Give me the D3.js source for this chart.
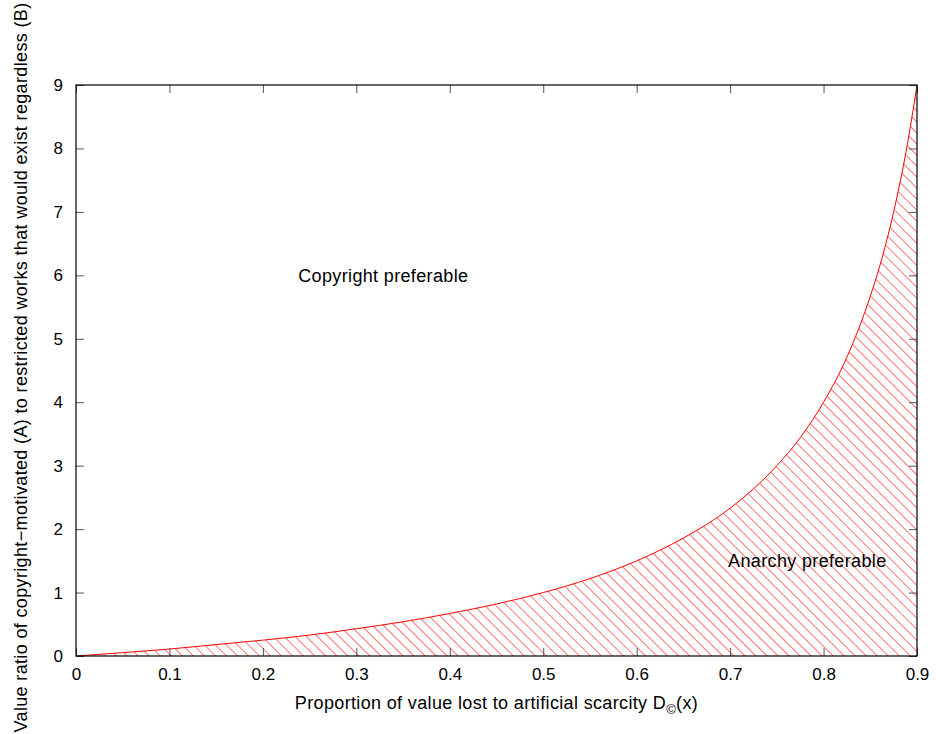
<!DOCTYPE html>
<html>
<head>
<meta charset="utf-8">
<script src="https://cdn.jsdelivr.net/npm/d3@7"></script>
<style>
  body { margin: 0; background: #fff; }
  text { font-family: "Liberation Sans", Arial, sans-serif; }
</style>
</head>
<body>
<div id="chart"></div>
<script>
// curve (x = proportion lost, y = value ratio A/B)
var curveX = [0, 0.05, 0.1, 0.15, 0.2, 0.25, 0.3, 0.35, 0.4, 0.45, 0.5, 0.55, 0.6, 0.65, 0.7, 0.75, 0.775, 0.8, 0.825, 0.85, 0.86, 0.875, 0.89, 0.9];
var curveY = [0, 0.053, 0.11, 0.18, 0.25, 0.33, 0.43, 0.54, 0.67, 0.82, 1.0, 1.22, 1.5, 1.86, 2.33, 3.0, 3.44, 4.0, 4.71, 5.67, 6.14, 7.0, 8.09, 9.0];
var xTicks = [0, 0.1, 0.2, 0.3, 0.4, 0.5, 0.6, 0.7, 0.8, 0.9];
var yTicks = [0, 1, 2, 3, 4, 5, 6, 7, 8, 9];
var regionLabels = [
  {text: "Copyright preferable", x: 0.24, y: 6},
  {text: "Anarchy preferable", x: 0.7, y: 1.5}
];

var width = 936, height = 734;
var mLeft = 76, mRight = 917, mTop = 85, mBottom = 656;
var labelFont = "18px", tickFont = "17px", spacing = "0.35px";

var svg = d3.select("#chart").append("svg").attr("width", width).attr("height", height);

var x = d3.scaleLinear().domain([0, 0.9]).range([mLeft, mRight]);
var y = d3.scaleLinear().domain([0, 9]).range([mBottom, mTop]);

// hatch pattern for the area under the curve (\\\ lines, ~11px apart horizontally)
var defs = svg.append("defs");
var pat = defs.append("pattern")
    .attr("id", "hatch")
    .attr("patternUnits", "userSpaceOnUse")
    .attr("width", 7.8)
    .attr("height", 7.8)
    .attr("patternTransform", "rotate(-45)");
pat.append("line")
    .attr("x1", 0).attr("y1", 0).attr("x2", 0).attr("y2", 7.8)
    .attr("stroke", "#ff2a2a")
    .attr("stroke-width", 1.3);

var pts = curveX.map(function (d, i) { return [d, curveY[i]]; });

var area = d3.area()
    .x(function (d) { return x(d[0]); })
    .y0(y(0))
    .y1(function (d) { return y(d[1]); })
    .curve(d3.curveMonotoneX);

svg.append("path")
    .datum(pts)
    .attr("d", area)
    .attr("fill", "url(#hatch)");

var line = d3.line()
    .x(function (d) { return x(d[0]); })
    .y(function (d) { return y(d[1]); })
    .curve(d3.curveMonotoneX);

svg.append("path")
    .datum(pts)
    .attr("d", line)
    .attr("fill", "none")
    .attr("stroke", "#ff0000")
    .attr("stroke-width", 1);

// axes, ticks mirrored on all four sides like gnuplot
function styleAxis(g) {
  g.select(".domain").remove();
  g.selectAll(".tick line").attr("stroke", "#555").attr("stroke-width", 1);
  g.selectAll(".tick text").attr("fill", "#000").style("font-size", tickFont)
    .style("font-family", "'Liberation Sans', Arial, sans-serif");
}

svg.append("g")
    .attr("transform", "translate(0," + mBottom + ")")
    .call(d3.axisBottom(x).tickValues(xTicks).tickFormat(d3.format("")).tickSizeInner(-8).tickSizeOuter(0).tickPadding(12))
    .call(styleAxis);

svg.append("g")
    .attr("transform", "translate(0," + mTop + ")")
    .call(d3.axisTop(x).tickValues(xTicks).tickFormat("").tickSizeInner(-8).tickSizeOuter(0))
    .call(styleAxis);

svg.append("g")
    .attr("transform", "translate(" + mLeft + ",0)")
    .call(d3.axisLeft(y).tickValues(yTicks).tickFormat(d3.format("")).tickSizeInner(-8).tickSizeOuter(0).tickPadding(13))
    .call(styleAxis);

svg.append("g")
    .attr("transform", "translate(" + mRight + ",0)")
    .call(d3.axisRight(y).tickValues(yTicks).tickFormat("").tickSizeInner(-8).tickSizeOuter(0))
    .call(styleAxis);

// frame
svg.append("rect")
    .attr("x", mLeft).attr("y", mTop)
    .attr("width", mRight - mLeft).attr("height", mBottom - mTop)
    .attr("fill", "none")
    .attr("stroke", "#000")
    .attr("stroke-width", 1.2);

// region labels
svg.selectAll(".region")
    .data(regionLabels)
    .enter()
    .append("text")
    .attr("class", "region")
    .attr("x", function (d) { return x(d.x) - 2; })
    .attr("y", function (d) { return y(d.y); })
    .attr("dy", "0.35em")
    .style("font-size", labelFont)
    .style("letter-spacing", spacing)
    .text(function (d) { return d.text; });

// x label with subscript ©
var xl = svg.append("text")
    .attr("x", (mLeft + mRight) / 2)
    .attr("y", 709)
    .attr("text-anchor", "middle")
    .style("font-size", labelFont)
    .style("letter-spacing", spacing);
xl.append("tspan").text("Proportion of value lost to artificial scarcity D");
xl.append("tspan").attr("dy", 5).style("font-size", "13px").text("\u00A9");
xl.append("tspan").attr("dy", -5).text("(x)");

// y label
svg.append("text")
    .attr("transform", "translate(27," + ((mTop + mBottom) / 2 - 3) + ") rotate(-90)")
    .attr("text-anchor", "middle")
    .style("font-size", labelFont)
    .style("letter-spacing", spacing)
    .text("Value ratio of copyright\u2212motivated (A) to restricted works that would exist regardless (B)");
</script>
</body>
</html>
